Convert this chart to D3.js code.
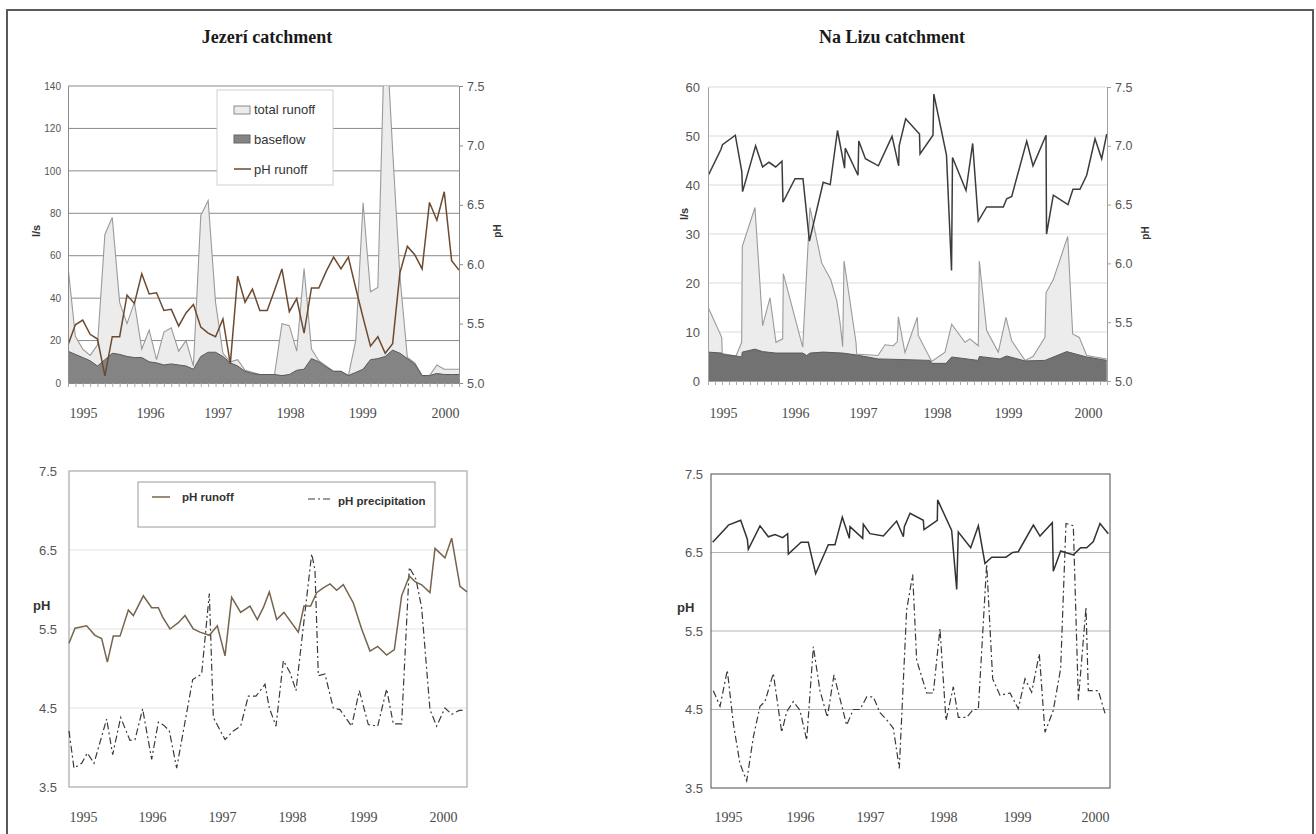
<!DOCTYPE html>
<html>
<head>
<meta charset="utf-8">
<script src="https://cdn.jsdelivr.net/npm/d3@7"></script>
<style>
  body { margin: 0; background: #fff; }
  svg { display: block; }
</style>
</head>
<body>
<svg id="fig" width="1316" height="834"></svg>
<script>
// ---- data ----
const yearLabels = ["1995", "1996", "1997", "1998", "1999", "2000"];

// Jezerí, top: one value per sample (evenly spaced)
const jezTotal = [55, 22, 16, 13, 18, 70, 78, 38, 28, 38, 16, 25, 11, 24, 26, 15, 20, 8, 79, 86,
  38, 14, 10, 11, 6, 5, 4, 4, 4, 28, 27, 15, 54, 16, 10.5, 8, 5.5, 5.5, 3.5, 20,
  85, 43, 45, 175, 110, 50, 12, 9.5, 3.5, 3.5, 8.5, 6.5, 6.5, 6.5];
const jezBase = [15, 13.5, 12, 10.5, 8, 11, 14, 13.5, 12.5, 12, 12, 10, 9.5, 8.5, 9, 8.5, 8, 6.5, 12.5, 14.5,
  14.5, 12.5, 9.5, 8, 5.5, 4.5, 4, 4, 4, 3.5, 4, 6, 6.5, 11.5, 10, 7.5, 5.5, 5.5, 3.5, 5,
  6.5, 11, 11.5, 12.5, 15.5, 14, 11.5, 9, 3.5, 3.5, 4.5, 4, 4, 4];
const jezPh = [5.32, 5.49, 5.53, 5.41, 5.37, 5.06, 5.39, 5.39, 5.74, 5.67, 5.92, 5.75, 5.76, 5.61, 5.62, 5.48,
  5.59, 5.66, 5.47, 5.42, 5.39, 5.54, 5.16, 5.90, 5.68, 5.79, 5.61, 5.61, 5.78, 5.96, 5.60, 5.71,
  5.42, 5.80, 5.80, 5.94, 6.06, 5.96, 6.06, 5.80, 5.55, 5.31, 5.39, 5.25, 5.33, 5.93, 6.15, 6.08,
  5.96, 6.52, 6.37, 6.61, 6.03, 5.95];
const jezTopYearPos = [2.03, 11.1, 20.3, 30.1, 39.9, 51.1];

// Na Lizu, top: [time step, value]
const lizuTotal = [[0, 15.1], [1.96, 8.9], [2.04, 5.6], [4.0, 5.1], [4.81, 7.9], [4.9, 27.5], [6.71, 35.4],
  [7.81, 11.3], [8.86, 17.0], [9.71, 7.9], [10.67, 8.6], [10.76, 21.9], [13.53, 6.9], [14.57, 35.4],
  [16.24, 24.1], [17.53, 20.7], [18.39, 16.4], [18.86, 12], [19.24, 7.0], [19.43, 24.5], [21.14, 7.9],
  [21.24, 5.5], [24.29, 5.2], [25.29, 7.4], [26.47, 7.2], [27.04, 8.0], [27.19, 13.1], [28.14, 5.8],
  [29.9, 13.0], [30.04, 9.3], [31.96, 4.0], [33.86, 5.9], [34.81, 11.6], [36.71, 7.9], [37.43, 8.6],
  [38.61, 7.2], [38.76, 24.5], [39.81, 10.3], [41.47, 5.9], [42.57, 13.0], [43.39, 8.2], [45.29, 4.2],
  [46.43, 5.0], [48.14, 8.9], [48.29, 18.0], [49.33, 20.7], [51.39, 29.5], [52.1, 9.6], [53.04, 8.9],
  [54.1, 5.2], [56.96, 4.5]];
const lizuBase = [[0, 5.9], [1.96, 5.7], [2.04, 5.4], [4.0, 5.1], [4.81, 4.9], [4.9, 5.9], [6.71, 6.5],
  [7.81, 6.0], [9.71, 5.7], [13.53, 5.7], [14.1, 5.2], [14.57, 5.7], [16.47, 5.9], [19.24, 5.7],
  [21.24, 5.3], [24.33, 4.5], [27.19, 4.4], [31.71, 4.2], [31.96, 3.6], [34.0, 3.6], [34.81, 4.9],
  [38.61, 4.2], [38.76, 5.0], [41.71, 4.5], [42.67, 5.1], [45.29, 4.1], [48.14, 4.2], [51.24, 6.0],
  [54.1, 4.9], [56.96, 4.2]];
const lizuPh = [[0, 6.95], [0.05, 6.75], [1.86, 6.97], [2.07, 7.01], [3.9, 7.09], [4.83, 6.78], [4.94, 6.61],
  [6.8, 7.00], [7.8, 6.82], [8.71, 6.86], [9.66, 6.82], [10.57, 6.87], [10.71, 6.52], [12.43, 6.72],
  [13.57, 6.72], [14.49, 6.19], [16.46, 6.69], [17.46, 6.67], [18.5, 7.13], [19.51, 6.81], [19.61, 6.98],
  [21.43, 6.75], [21.54, 7.04], [22.49, 6.89], [24.34, 6.83], [26.29, 7.08], [27.24, 6.83], [27.31, 7.00],
  [28.24, 7.23], [30.21, 7.10], [30.29, 6.93], [32.14, 7.09], [32.26, 7.44], [34.07, 6.92], [34.79, 5.94],
  [34.93, 6.90], [36.86, 6.62], [37.81, 7.02], [38.61, 6.36], [39.81, 6.48], [42.19, 6.48], [42.67, 6.55],
  [43.39, 6.57], [45.53, 7.04], [46.43, 6.83], [48.29, 7.09], [48.36, 6.25], [49.33, 6.58], [51.43, 6.50],
  [52.14, 6.63], [53.14, 6.63], [54.1, 6.75], [55.29, 7.06], [56.24, 6.89], [56.96, 7.10]];
const lizuTopYearPos = [2.14, 12.43, 22.14, 32.71, 42.86, 54.29];

// Jezerí, bottom: [time step, pH]
const jezRunoffPh = [[0, 5.32], [0.86, 5.51], [2.52, 5.54], [3.71, 5.42], [4.67, 5.38], [5.48, 5.08],
  [6.33, 5.41], [7.29, 5.41], [8.48, 5.74], [9.19, 5.67], [10.62, 5.92], [11.81, 5.77], [12.76, 5.77],
  [13.38, 5.65], [14.43, 5.50], [15.62, 5.58], [16.57, 5.67], [17.76, 5.50], [18.71, 5.46], [20.05, 5.42],
  [21.19, 5.54], [22.29, 5.16], [23.24, 5.90], [24.52, 5.71], [25.86, 5.79], [26.9, 5.62], [27.76, 5.77],
  [28.62, 5.97], [29.67, 5.62], [30.71, 5.71], [32.76, 5.46], [33.57, 5.79], [34.52, 5.79], [35.38, 5.96],
  [36.33, 6.02], [37.29, 6.07], [38.24, 5.99], [39.19, 6.06], [40.62, 5.83], [41.81, 5.50], [43.0, 5.22],
  [44.1, 5.28], [45.38, 5.17], [46.48, 5.24], [47.52, 5.92], [48.62, 6.17], [49.43, 6.10], [50.38, 6.06],
  [51.57, 5.96], [52.29, 6.52], [53.71, 6.40], [54.67, 6.65], [55.86, 6.04], [56.86, 5.97]];
const jezPrecipPh = [[0, 4.21], [0.71, 3.74], [1.81, 3.80], [2.62, 3.93], [3.57, 3.80], [5.38, 4.36],
  [6.24, 3.91], [7.38, 4.38], [8.71, 4.09], [9.43, 4.10], [10.52, 4.49], [11.81, 3.85], [12.76, 4.32],
  [13.57, 4.28], [14.33, 4.21], [15.38, 3.74], [17.67, 4.86], [18.95, 4.93], [20.05, 5.95], [20.62, 4.38],
  [22.29, 4.10], [23.48, 4.21], [24.52, 4.27], [25.62, 4.65], [26.71, 4.65], [28.0, 4.80], [28.62, 4.50],
  [29.57, 4.27], [30.62, 5.10], [31.57, 4.95], [32.43, 4.72], [34.67, 6.45], [35.14, 6.25], [35.62, 4.91],
  [36.57, 4.93], [37.76, 4.50], [38.71, 4.48], [40.38, 4.27], [41.48, 4.72], [42.76, 4.29], [44.1, 4.27],
  [45.38, 4.74], [46.33, 4.30], [47.52, 4.30], [48.62, 6.28], [49.57, 6.13], [50.38, 5.77], [51.57, 4.48],
  [52.52, 4.27], [53.71, 4.50], [54.67, 4.42], [55.76, 4.47], [56.57, 4.47]];
const jezBottomYearPos = [2.0, 11.86, 21.86, 31.86, 42.0, 53.43];

// Na Lizu, bottom: [time step, pH]
const lizuRunoffPh = [[0.24, 6.63], [2.33, 6.83], [2.48, 6.85], [4.24, 6.91], [5.19, 6.67], [5.33, 6.54],
  [7.0, 6.84], [8.19, 6.70], [9.14, 6.73], [10.24, 6.69], [10.95, 6.74], [11.05, 6.48], [12.86, 6.63],
  [13.9, 6.63], [14.95, 6.23], [16.76, 6.60], [17.71, 6.60], [18.76, 6.95], [19.76, 6.68], [19.86, 6.83],
  [21.67, 6.68], [21.76, 6.86], [22.71, 6.74], [24.62, 6.71], [26.52, 6.90], [27.48, 6.70], [27.62, 6.83],
  [28.43, 7.00], [30.33, 6.91], [30.43, 6.79], [32.33, 6.91], [32.38, 7.17], [34.38, 6.78], [35.1, 6.03],
  [35.33, 6.76], [37.1, 6.56], [38.19, 6.84], [39.14, 6.36], [40.1, 6.44], [42.14, 6.44], [43.1, 6.50],
  [43.9, 6.51], [46.05, 6.85], [47.0, 6.71], [48.76, 6.88], [48.9, 6.26], [49.95, 6.52], [51.76, 6.47],
  [52.8, 6.56], [53.67, 6.56], [54.62, 6.64], [55.57, 6.87], [56.76, 6.74]];
const lizuPrecipPh = [[0.33, 4.74], [1.29, 4.54], [2.33, 5.0], [3.19, 4.32], [4.14, 3.81], [5.1, 3.59],
  [6.05, 4.15], [7.0, 4.54], [7.71, 4.60], [8.9, 4.96], [10.1, 4.21], [10.81, 4.47], [11.76, 4.60],
  [12.71, 4.49], [13.67, 4.11], [14.62, 5.30], [15.57, 4.74], [16.62, 4.40], [17.57, 4.94], [19.38, 4.30],
  [20.33, 4.50], [21.29, 4.50], [22.24, 4.66], [23.19, 4.66], [24.14, 4.46], [25.0, 4.38], [26.05, 4.26],
  [26.9, 3.75], [27.95, 5.77], [28.81, 6.22], [29.38, 5.13], [30.81, 4.71], [31.76, 4.71], [32.71, 5.53],
  [33.57, 4.36], [34.62, 4.79], [35.33, 4.40], [36.52, 4.40], [37.48, 4.50], [38.19, 4.50], [39.38, 6.35],
  [40.24, 4.89], [41.29, 4.68], [42.71, 4.71], [43.9, 4.51], [44.86, 4.89], [45.81, 4.72], [46.9, 5.21],
  [47.71, 4.21], [48.9, 4.49], [49.95, 5.02], [50.71, 6.87], [51.76, 6.84], [52.48, 4.62], [53.57, 5.80],
  [53.9, 4.74], [55.33, 4.74], [56.29, 4.45]];
const lizuBottomYearPos = [2.43, 12.71, 22.71, 33.14, 43.71, 54.86];

const jezFlowTicks = [0, 20, 40, 60, 80, 100, 120, 140];
const lizuFlowTicks = [0, 10, 20, 30, 40, 50, 60];
const phTicksTop = [5.0, 5.5, 6.0, 6.5, 7.0, 7.5];
const phTicksBottom = [3.5, 4.5, 5.5, 6.5, 7.5];

// ---- drawing ----
const SERIF = "'Liberation Serif', 'Times New Roman', serif";
const SANS = "'Liberation Sans', Arial, sans-serif";
const svg = d3.select("#fig");

svg.append("rect")
  .attr("x", 7).attr("y", 10).attr("width", 1306).attr("height", 840)
  .attr("fill", "none").attr("stroke", "#5a5a5a").attr("stroke-width", 2);

function title(text, cx) {
  svg.append("text")
    .attr("x", cx).attr("y", 43)
    .attr("text-anchor", "middle")
    .attr("font-family", SERIF).attr("font-weight", "bold").attr("font-size", 18)
    .attr("fill", "#1a1a1a")
    .text(text);
}

function yearAxis(g, x, y, positions) {
  const ax = g.append("g").attr("transform", `translate(0,${y})`)
    .call(d3.axisBottom(x).tickValues(positions).tickFormat((d, i) => yearLabels[i]).tickSize(0).tickPadding(0));
  ax.select(".domain").remove();
  ax.selectAll("text")
    .attr("y", 0).attr("dy", null)
    .attr("font-family", SERIF).attr("font-size", 14).attr("fill", "#4a4a4a");
}

function vLabel(g, text, cx, cy, size) {
  g.append("text")
    .attr("transform", `translate(${cx},${cy}) rotate(-90)`)
    .attr("text-anchor", "middle").attr("dy", "0.35em")
    .attr("font-family", SANS).attr("font-weight", "bold").attr("font-size", size)
    .attr("fill", "#333")
    .text(text);
}

function flowPanel(cfg) {
  const g = svg.append("g");
  const x = d3.scaleLinear().domain(cfg.xDomain).range([cfg.left, cfg.right]);
  const yQ = d3.scaleLinear().domain([0, cfg.qMax]).range([cfg.bottom, cfg.top]);
  const yPh = d3.scaleLinear().domain([5, 7.5]).range([cfg.bottom, cfg.top]);

  g.append("clipPath").attr("id", cfg.id + "-clip")
    .append("rect")
    .attr("x", cfg.left).attr("y", cfg.top)
    .attr("width", cfg.right - cfg.left).attr("height", cfg.bottom - cfg.top);

  g.append("g").selectAll("line")
    .data(cfg.qTicks.filter((d) => d > 0))
    .join("line")
    .attr("x1", cfg.left).attr("x2", cfg.right)
    .attr("y1", (d) => yQ(d)).attr("y2", (d) => yQ(d))
    .attr("stroke", cfg.gridColor).attr("stroke-width", 1);

  const plot = g.append("g").attr("clip-path", `url(#${cfg.id}-clip)`);
  const area = d3.area().x((d) => x(d[0])).y0(yQ(0)).y1((d) => yQ(d[1]));
  const edge = d3.line().x((d) => x(d[0])).y((d) => yQ(d[1]));

  plot.append("path").datum(cfg.total).attr("d", area).attr("fill", "#ececec");
  plot.append("path").datum(cfg.total).attr("d", edge)
    .attr("fill", "none").attr("stroke", "#9a9a9a").attr("stroke-width", 1.1);
  plot.append("path").datum(cfg.base).attr("d", area).attr("fill", cfg.baseFill);
  plot.append("path").datum(cfg.base).attr("d", edge)
    .attr("fill", "none").attr("stroke", "#5a5a5a").attr("stroke-width", 1);

  const phLine = d3.line().x((d) => x(d[0])).y((d) => yPh(d[1]));
  plot.append("path").datum(cfg.ph).attr("d", phLine)
    .attr("fill", "none").attr("stroke", cfg.phColor).attr("stroke-width", 1.5)
    .attr("stroke-linejoin", "miter");

  // left axis
  const la = g.append("g").attr("transform", `translate(${cfg.left},0)`)
    .call(d3.axisLeft(yQ).tickValues(cfg.qTicks).tickSize(0).tickPadding(cfg.leftPad));
  la.select(".domain").attr("stroke", cfg.axisColor);
  la.selectAll("text").attr("font-family", SANS).attr("font-size", cfg.leftFs).attr("fill", "#555");

  // right axis
  const ra = g.append("g").attr("transform", `translate(${cfg.right},0)`)
    .call(d3.axisRight(yPh).tickValues(phTicksTop).tickFormat(d3.format(".1f"))
      .tickSizeInner(4).tickSizeOuter(0).tickPadding(4));
  ra.select(".domain").attr("stroke", cfg.axisColor);
  ra.selectAll("line").attr("stroke", cfg.axisColor);
  ra.selectAll("text").attr("font-family", SANS).attr("font-size", 12.5).attr("fill", "#555");

  // bottom axis with small ticks
  const ba = g.append("g").attr("transform", `translate(0,${cfg.bottom})`)
    .call(d3.axisBottom(x).tickValues(cfg.minorTicks).tickFormat("").tickSizeInner(4).tickSizeOuter(0));
  ba.select(".domain").attr("stroke", cfg.axisColor);
  ba.selectAll("line").attr("stroke", "#aaa");

  yearAxis(g, x, 418, cfg.yearPos);

  vLabel(g, "l/s", cfg.qLabel[0], cfg.qLabel[1], 11);
  vLabel(g, "pH", cfg.phLabel[0], cfg.phLabel[1], 10);
  return { g, x, yQ, yPh };
}

function phPanel(cfg) {
  const g = svg.append("g");
  const x = d3.scaleLinear().domain(cfg.xDomain).range([cfg.left, cfg.right]);
  const y = d3.scaleLinear().domain([3.5, 7.5]).range([cfg.bottom, cfg.top]);

  g.append("g").selectAll("line")
    .data([4.5, 5.5, 6.5])
    .join("line")
    .attr("x1", cfg.left).attr("x2", cfg.right)
    .attr("y1", (d) => y(d)).attr("y2", (d) => y(d))
    .attr("stroke", cfg.gridColor).attr("stroke-width", 1);

  g.append("rect")
    .attr("x", cfg.left).attr("y", cfg.top)
    .attr("width", cfg.right - cfg.left).attr("height", cfg.bottom - cfg.top)
    .attr("fill", "none").attr("stroke", cfg.frameColor).attr("stroke-width", 1.2);

  const line = d3.line().x((d) => x(d[0])).y((d) => y(d[1]));
  g.append("path").datum(cfg.precip).attr("d", line)
    .attr("fill", "none").attr("stroke", "#3a3a3a").attr("stroke-width", 1.2)
    .attr("stroke-dasharray", "7,3,2,3");
  g.append("path").datum(cfg.runoff).attr("d", line)
    .attr("fill", "none").attr("stroke", cfg.runoffColor).attr("stroke-width", 1.5);

  const la = g.append("g").attr("transform", `translate(${cfg.left},0)`)
    .call(d3.axisLeft(y).tickValues(phTicksBottom).tickFormat(d3.format(".1f")).tickSize(0).tickPadding(cfg.leftPad));
  la.select(".domain").remove();
  la.selectAll("text").attr("font-family", SANS).attr("font-size", 13).attr("fill", "#555");

  yearAxis(g, x, 822, cfg.yearPos);

  g.append("text")
    .attr("x", cfg.phLabel[0]).attr("y", cfg.phLabel[1])
    .attr("font-family", SANS).attr("font-weight", "bold").attr("font-size", 13).attr("fill", "#333")
    .text("pH");
  return { g, x, y };
}

title("Jezerí catchment", 267);
title("Na Lizu catchment", 892);

const tl = flowPanel({
  id: "jez-top", left: 68, right: 459, top: 86, bottom: 383,
  xDomain: [0, jezTotal.length - 1], qMax: 140, qTicks: jezFlowTicks,
  total: jezTotal.map((v, i) => [i, v]),
  base: jezBase.map((v, i) => [i, v]),
  ph: jezPh.map((v, i) => [i, v]),
  minorTicks: d3.range(0, jezTotal.length),
  yearPos: jezTopYearPos,
  gridColor: "#8a8a8a", axisColor: "#8a8a8a", baseFill: "#848484", phColor: "#6b4a30",
  leftPad: 7, leftFs: 10, qLabel: [36, 231], phLabel: [497, 231]
});

// legend of the Jezerí flow panel
{
  const lg = tl.g.append("g");
  lg.append("rect").attr("x", 217).attr("y", 90).attr("width", 116).attr("height", 95)
    .attr("fill", "#fff").attr("stroke", "#d0d0d0");
  lg.append("rect").attr("x", 234).attr("y", 106).attr("width", 16).attr("height", 8)
    .attr("fill", "#ececec").attr("stroke", "#8a8a8a");
  lg.append("rect").attr("x", 234).attr("y", 135).attr("width", 16).attr("height", 8)
    .attr("fill", "#848484").attr("stroke", "#666");
  lg.append("line").attr("x1", 234).attr("x2", 251).attr("y1", 169).attr("y2", 169)
    .attr("stroke", "#6b4a30").attr("stroke-width", 1.5);
  const items = [["total runoff", 114], ["baseflow", 144], ["pH runoff", 174]];
  lg.selectAll("text.it").data(items).join("text")
    .attr("x", 254).attr("y", (d) => d[1])
    .attr("font-family", SANS).attr("font-size", 13).attr("fill", "#333")
    .text((d) => d[0]);
}

flowPanel({
  id: "lizu-top", left: 708, right: 1107, top: 87, bottom: 381,
  xDomain: [0, 57], qMax: 60, qTicks: lizuFlowTicks,
  total: lizuTotal, base: lizuBase, ph: lizuPh,
  minorTicks: d3.range(0, 58),
  yearPos: lizuTopYearPos,
  gridColor: "#dadada", axisColor: "#a0a0a0", baseFill: "#727272", phColor: "#3c3c3c",
  leftPad: 8, leftFs: 13, qLabel: [684, 214], phLabel: [1145, 233]
});

const bl = phPanel({
  left: 69, right: 467, top: 471, bottom: 787,
  xDomain: [0, 56.86],
  runoff: jezRunoffPh, precip: jezPrecipPh,
  yearPos: jezBottomYearPos,
  gridColor: "#e2e2e2", frameColor: "#a8a8a8", runoffColor: "#76644c",
  leftPad: 12, phLabel: [33, 610]
});

// legend of the Jezerí pH panel
{
  const lg = bl.g.append("g");
  lg.append("rect").attr("x", 138).attr("y", 482).attr("width", 297).attr("height", 45)
    .attr("fill", "#fff").attr("stroke", "#9a9a9a");
  lg.append("line").attr("x1", 152).attr("x2", 170).attr("y1", 497).attr("y2", 497)
    .attr("stroke", "#76644c").attr("stroke-width", 1.5);
  lg.append("line").attr("x1", 308).attr("x2", 331).attr("y1", 499).attr("y2", 499)
    .attr("stroke", "#3a3a3a").attr("stroke-width", 1.2).attr("stroke-dasharray", "7,3,2,3");
  lg.append("text").attr("x", 182).attr("y", 501)
    .attr("font-family", SANS).attr("font-weight", "bold").attr("font-size", 11.5).attr("fill", "#333")
    .text("pH runoff");
  lg.append("text").attr("x", 338).attr("y", 505)
    .attr("font-family", SANS).attr("font-weight", "bold").attr("font-size", 11.5).attr("fill", "#333")
    .text("pH precipitation");
}

phPanel({
  left: 711, right: 1110, top: 474, bottom: 788,
  xDomain: [0, 57],
  runoff: lizuRunoffPh, precip: lizuPrecipPh,
  yearPos: lizuBottomYearPos,
  gridColor: "#b4b4b4", frameColor: "#6a6a6a", runoffColor: "#333",
  leftPad: 8, phLabel: [677, 612]
});
</script>
</body>
</html>
